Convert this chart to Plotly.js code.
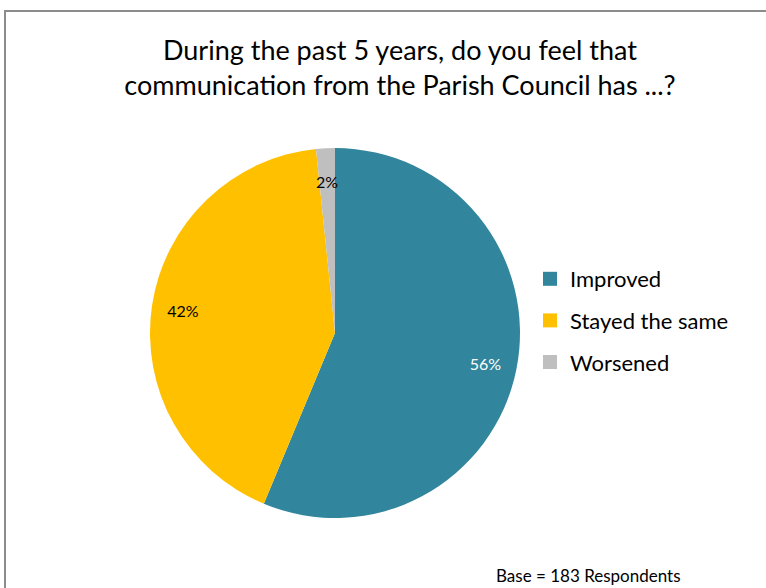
<!DOCTYPE html>
<html>
<head>
<meta charset="utf-8">
<script src="https://cdn.plot.ly/plotly-3.0.1.min.js"></script>
<style>
  html, body { margin: 0; padding: 0; background: #ffffff; overflow: hidden; }
  #wrap { position: relative; width: 766px; height: 588px; }
  #frame { position: absolute; left: 4px; top: 10px; width: 800px; height: 600px;
           border-left: 2px solid #8c8c8c; border-top: 2px solid #8c8c8c; pointer-events: none; z-index: 5; }
  #chart { position: absolute; left: 0; top: 0; width: 766px; height: 588px; }
</style>
</head>
<body>
<div id="wrap">
  <div id="chart"></div>
  <div id="frame"></div>
</div>
<script>
// Data
const categories = ["Improved", "Stayed the same", "Worsened"];
const counts = [103, 77, 3];
const colors = ["#31859C", "#FFC000", "#BFBFBF"];
const textColors = ["#ffffff", "#000000", "#000000"];
const titleText = "During the past 5 years, do you feel that<br>communication from the Parish Council has ...?";
const baseNote = "Base = 183 Respondents";

const W = 766, H = 588;
const FONT = "Lato, 'Open Sans', sans-serif";
const CX = 335, CY = 333, R = 185, R2 = 160;
const pieDomain = { x: [(CX - R) / W, (CX + R) / W], y: [1 - (CY + R) / H, 1 - (CY - R) / H] };
const innerDomain = { x: [(CX - R2) / W, (CX + R2) / W], y: [1 - (CY + R2) / H, 1 - (CY - R2) / H] };

const PCT = "%{percent:.0%}";
const total = counts.reduce((a, b) => a + b, 0);
const isSmall = counts.map(v => v / total < 0.05);

// filled pie (no text)
const pie = {
  type: "pie",
  labels: categories,
  values: counts,
  sort: false,
  direction: "clockwise",
  rotation: 0,
  marker: { colors: colors, line: { width: 0 } },
  textinfo: "none",
  showlegend: false,
  hoverinfo: "label+percent",
  domain: pieDomain
};

function labelRing(domain, showFor) {
  return {
    type: "pie",
    labels: categories,
    values: counts,
    sort: false,
    direction: "clockwise",
    rotation: 0,
    hole: 0.66,
    marker: { colors: categories.map(() => "rgba(0,0,0,0)"), line: { width: 0 } },
    texttemplate: showFor.map(s => (s ? PCT : "")),
    textposition: "inside",
    insidetextorientation: "horizontal",
    insidetextfont: { family: FONT, size: 16, color: textColors },
    showlegend: false,
    hoverinfo: "skip",
    domain: domain
  };
}

// outer ring labels for large slices, inner ring label for the thin slice
const ringLarge = labelRing(pieDomain, isSmall.map(s => !s));
const ringSmall = labelRing(innerDomain, isSmall);

// legend entries (one group per category for spacing)
const legendTraces = categories.map((c, i) => ({
  type: "scatter",
  x: [null], y: [null],
  mode: "markers",
  name: c,
  legendgroup: "g" + i,
  marker: { symbol: "square", size: 14, color: colors[i] },
  showlegend: true,
  hoverinfo: "skip"
}));

const layout = {
  width: W, height: H,
  margin: { l: 0, r: 0, t: 0, b: 0 },
  paper_bgcolor: "#ffffff",
  plot_bgcolor: "rgba(0,0,0,0)",
  title: {
    text: titleText,
    font: { family: FONT, size: 27, color: "#000000" },
    x: 400 / W, xanchor: "center",
    y: 1 - 60 / H, yanchor: "top"
  },
  xaxis: { visible: false, domain: [0.9, 0.95] },
  yaxis: { visible: false, domain: [0.9, 0.95] },
  uniformtext: { minsize: 16, mode: "show" },
  legend: {
    x: 530 / W, xanchor: "left",
    y: 1 - 258 / H, yanchor: "top",
    font: { family: FONT, size: 22, color: "#000000" },
    tracegroupgap: 10,
    bgcolor: "rgba(0,0,0,0)",
    itemclick: false
  },
  annotations: [{
    text: baseNote,
    xref: "paper", yref: "paper",
    x: 588 / W, y: 1 - 575 / H,
    xanchor: "center", yanchor: "middle",
    showarrow: false,
    font: { family: FONT, size: 17, color: "#000000" }
  }]
};

Plotly.newPlot("chart", legendTraces.concat([pie, ringLarge, ringSmall]), layout, { displayModeBar: false, staticPlot: true });
</script>
</body>
</html>
